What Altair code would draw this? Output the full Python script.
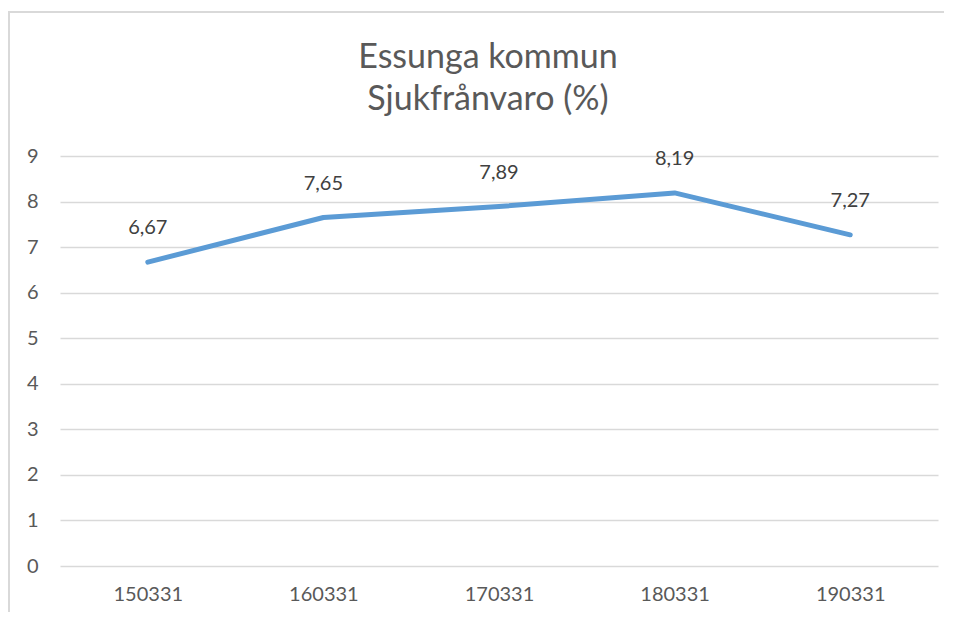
import altair as alt
import pandas as pd

categories = ["150331", "160331", "170331", "180331", "190331"]
values = [6.67, 7.65, 7.89, 8.19, 7.27]
title_lines = ["Essunga kommun", "Sjukfrånvaro (%)"]
y_ticks = [0, 1, 2, 3, 4, 5, 6, 7, 8, 9]

df = pd.DataFrame({"period": categories, "value": values})

FONT = "Lato"
LINE_COLOR = "#5B9BD5"
GRID = "#D9D9D9"
TEXT = "#595959"

x_enc = alt.X("period:N", sort=categories, title=None,
              scale=alt.Scale(paddingInner=0, paddingOuter=0.5, align=0.5),
              axis=alt.Axis(labelAngle=0, labelFontSize=20, labelColor=TEXT, labelFont=FONT,
                            domain=False, ticks=False, labelPadding=18, grid=False))
y_enc = alt.Y("value:Q", title=None,
              scale=alt.Scale(domain=[0, 9], nice=False, zero=True),
              axis=alt.Axis(values=y_ticks, labelFontSize=20, labelColor=TEXT, labelFont=FONT,
                            domain=False, ticks=False, labelPadding=22, grid=True,
                            gridColor=GRID, gridWidth=1.5))

frame_left = alt.Chart(df).mark_rule(stroke=GRID, strokeWidth=2).encode(
    x=alt.value(-51), y=alt.value(-144), y2=alt.value(456)
)
frame_top = alt.Chart(df).mark_rule(stroke=GRID, strokeWidth=2).encode(
    x=alt.value(-52), x2=alt.value(884), y=alt.value(-144)
)

line = alt.Chart(df).mark_line(color=LINE_COLOR, strokeWidth=5, strokeCap="round",
                               strokeJoin="round").encode(x=x_enc, y=y_enc)

labels = alt.Chart(df).transform_calculate(
    lab="replace(format(datum.value, '.2f'), '.', ',')"
).mark_text(fontSize=20, font=FONT, color="#404040", dy=-34, baseline="middle").encode(
    x=alt.X("period:N", sort=categories), y="value:Q", text="lab:N"
)

chart = alt.layer(frame_left, frame_top, line, labels).properties(
    width=878, height=410,
    padding={"left": 52, "top": 148, "right": 9, "bottom": 46},
    autosize=alt.AutoSizeParams(type="none"),
    title=alt.TitleParams(text=title_lines, fontSize=34, font=FONT, color=TEXT,
                          fontWeight="normal", lineHeight=42, anchor="middle",
                          frame="group", dx=-11, offset=-106),
).configure_view(stroke=None)

chart.save("out.html", embed_options={"renderer": "svg", "actions": False})
